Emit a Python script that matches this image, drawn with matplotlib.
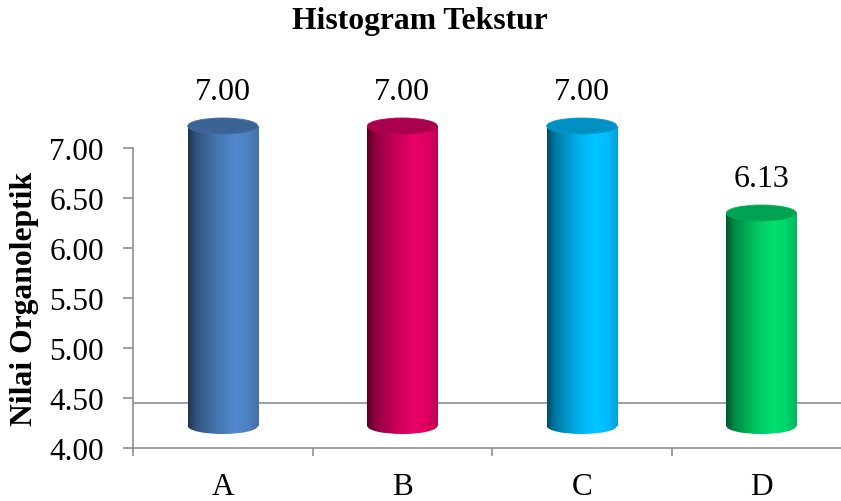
import numpy as np
import matplotlib
matplotlib.use("Agg")
import matplotlib.pyplot as plt
from matplotlib.patches import Ellipse
from matplotlib.colors import to_rgb

categories = ["A", "B", "C", "D"]
scores = [7.00, 7.00, 7.00, 6.13]
bar_colors = ["#4A7CBA", "#D4005E", "#00B4F2", "#00CC66"]
ytick_vals = [4.00, 4.50, 5.00, 5.50, 6.00, 6.50, 7.00]

# --- look of the pseudo-3D cylinders ---
Y_MIN = 4.0
DEPTH = 0.22        # shift of the cylinders up the back wall
BAR_W = 0.39
CAP_H = 0.16        # ellipse height in data units
FLOOR_Y = 4.45      # back edge of the floor
AXIS_GREY = "#868686"

plt.rcParams["font.family"] = ["Liberation Serif", "DejaVu Serif"]


def shade_row(color, n=120):
    # horizontal lighting across a cylinder: dark left rim, highlight right of centre
    t = np.linspace(0, 1, n)
    f = np.interp(t, [0, 0.12, 0.45, 0.68, 0.85, 1.0],
                     [0.42, 0.68, 0.98, 1.10, 1.04, 0.90])
    rgb = np.clip(np.outer(f, to_rgb(color)), 0, 1)
    return rgb[np.newaxis, :, :]


fig = plt.figure(figsize=(8.41, 5.02), dpi=100)
ax = fig.add_axes([133 / 841, 53 / 502, 1 - 133 / 841, 400 / 502])

ax.axhline(FLOOR_Y, color=AXIS_GREY, lw=1.1, zorder=1)

for i, (v, c) in enumerate(zip(scores, bar_colors)):
    rect = ax.bar(i, v - Y_MIN, bottom=Y_MIN + DEPTH, width=BAR_W,
                  color="none", linewidth=0, zorder=2)[0]
    x0, y0 = rect.get_x(), rect.get_y()
    x1, y1 = x0 + rect.get_width(), y0 + rect.get_height()
    base_cap = Ellipse((i, y0), BAR_W, CAP_H, facecolor="none", linewidth=0)
    ax.add_patch(base_cap)

    grad = shade_row(c)
    for clip in (rect, base_cap):
        im = ax.imshow(grad, extent=(x0, x1, y0 - CAP_H, y1), aspect="auto",
                       interpolation="bilinear", zorder=3)
        im.set_clip_path(clip)

    top_rgb = np.array(to_rgb(c)) * 0.8
    ax.add_patch(Ellipse((i, y1), BAR_W, CAP_H, facecolor=top_rgb,
                         edgecolor=np.clip(top_rgb * 1.1, 0, 1), lw=0.6, zorder=4))

    ax.annotate(f"{v:.2f}", (i, y1), xytext=(0, 25), textcoords="offset points",
                ha="center", va="center", fontsize=23)

ax.set_yticks(ytick_vals)
ax.set_yticklabels([f"{t:.2f}" for t in ytick_vals])
ax.set_xticks(np.arange(-0.5, 4, 1))
ax.set_xticklabels([])
ax.set_xticks(range(len(categories)), minor=True)
ax.set_xticklabels(categories, minor=True)

# limits after the ticks, since set_xticks widens the view
ax.set_xlim(-0.5, 3.444)
ax.set_ylim(Y_MIN, 8.0)

ax.tick_params(axis="y", length=7, width=1.1, color=AXIS_GREY, pad=14, labelsize=22.5)
ax.tick_params(axis="x", which="major", length=6, width=1.1, color=AXIS_GREY)
ax.tick_params(axis="x", which="minor", length=0, pad=17, labelsize=22.5)

for side in ("top", "right"):
    ax.spines[side].set_visible(False)
for side in ("left", "bottom"):
    ax.spines[side].set_color(AXIS_GREY)
    ax.spines[side].set_linewidth(1.1)
ax.spines["left"].set_bounds(Y_MIN, 7.0)

fig.text(25 / 841, 1 - 299 / 502, "Nilai Organoleptik", rotation=90,
         ha="center", va="center", fontsize=22.8, fontweight="bold")
fig.text(0.499, 1 - 22 / 502, "Histogram Tekstur", ha="center", va="center",
         fontsize=22.8, fontweight="bold")

fig.savefig("out.png", dpi=100)
